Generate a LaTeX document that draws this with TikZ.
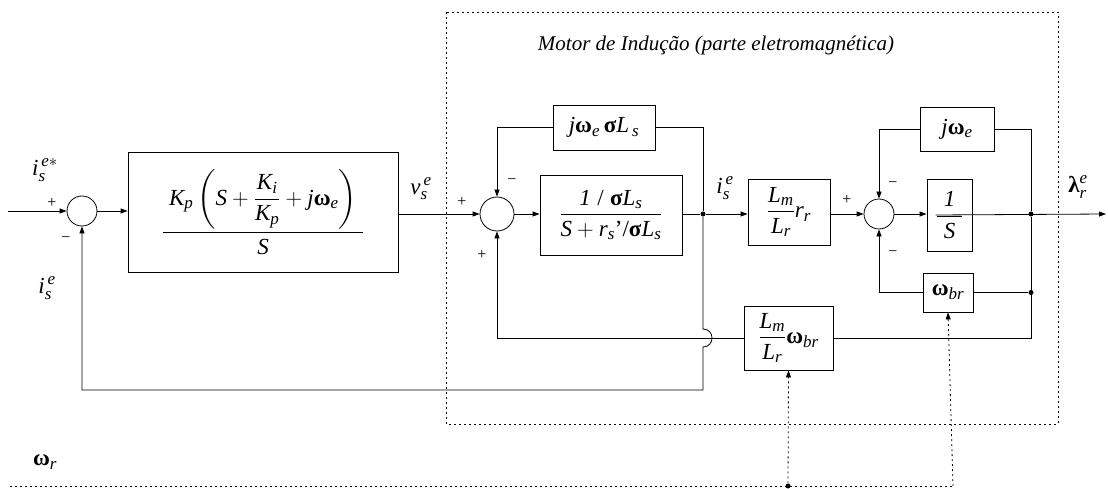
\documentclass[tikz,border=0pt]{standalone}
\usepackage{fix-cm}
\usepackage{amsmath}
\usepackage{fontspec}
\setmainfont{Liberation Serif}
\usetikzlibrary{arrows.meta}
\DeclareMathSizes{23}{23}{17}{13}
\newcommand\itx[1]{\textit{#1}}
\newcommand\gw{\textbf{ω}}
\newcommand\gs{\textbf{σ}}
\begin{document}
\begin{tikzpicture}[x=1pt,y=-1pt, font=\fontsize{23}{26}\selectfont,
 blk/.style={draw, line width=0.8pt, inner sep=0pt},
 sumc/.style={draw, circle, line width=0.8pt, inner sep=0pt},
 wire/.style={line width=0.8pt},
 arr/.style={wire, -{Triangle[length=7pt,width=5pt]}},
 dot/.style={circle, fill, inner sep=0pt, minimum size=5pt},
 dots/.style={line width=0.8pt, dash pattern=on 2pt off 3pt},
 darr/.style={dots, -{Triangle[length=7pt,width=5pt]}},
 sgn/.style={font=\fontsize{16}{16}\selectfont, inner sep=0pt},
 lbl/.style={inner sep=0pt}]
\useasboundingbox (0,0) rectangle (1108,489);
% motor boundary
\draw[dots] (446,12) rectangle (1058,424);
\node[lbl, font=\fontsize{21}{24}\selectfont] (title) at (716,45) {\itx{Motor de Indução (parte eletromagnética)}};
% blocks
\node[sumc, minimum size=30pt] (s1) at (82,211) {};
\node[blk, minimum width=270pt, minimum height=120pt] (pi) at (263,212)
 {$\dfrac{\;\itx{K}_{\itx{p}}\left(\itx{S}+\dfrac{\itx{K}_{\itx{i}}}{\itx{K}_{\itx{p}}}+\itx{j}\gw_{\itx{e}}\right)\;}{\itx{S}}$};
\node[sumc, minimum size=34pt] (s2) at (497,214) {};
\node[blk, minimum width=142pt, minimum height=80pt] (g1) at (611,215)
 {$\dfrac{\itx{1}\;\textrm{/}\;\gs\itx{L}_{\itx{s}}}{\itx{S}+\itx{r}_{\itx{s}}\textrm{'/}\gs\itx{L}_{\itx{s}}}$};
\node[blk, minimum width=102pt, minimum height=45pt] (jw1) at (604,127.5)
 {$\itx{j}\gw_{\itx{e}}\,\gs\itx{L}_{\,\itx{s}}$};
\node[dot] (j1) at (703,214) {};
\node[blk, minimum width=82pt, minimum height=66pt] (lr) at (789,212)
 {$\dfrac{\itx{L}_{\itx{m}}}{\itx{L}_{\itx{r}}}\itx{r}_{\itx{r}}$};
\node[sumc, minimum size=30pt] (s3) at (879,214) {};
\node[blk, minimum width=45pt, minimum height=72pt] (is) at (949.5,215)
 {$\dfrac{\;\itx{1}\;}{\itx{S}}$};
\node[blk, minimum width=74pt, minimum height=44pt] (jw2) at (957,129)
 {$\itx{j}\gw_{\itx{e}}$};
\node[dot] (j2) at (1031,214) {};
\node[blk, minimum width=50pt, minimum height=39pt] (wb) at (948,292.5)
 {$\gw_{\itx{br}}$};
\node[dot] (j3) at (1031,292.5) {};
\node[blk, minimum width=89pt, minimum height=64pt] (lw) at (788.5,338)
 {$\dfrac{\itx{L}_{\itx{m}}}{\itx{L}_{\itx{r}}}\gw_{\itx{br}}$};
% coordinates
\coordinate (in) at (8,211);
\coordinate (out) at (1106,214);
\coordinate (h1) at (703,329);
\coordinate (h2) at (703,347);
\coordinate (fb) at (703,390);
\coordinate (r0) at (10,486);
\coordinate (r1) at (953,486);
\node[dot] (jr) at (788,486) {};
% connectors
\draw[arr] (in) -- (s1.west);
\draw[arr] (s1.east) -- (pi.west |- s1.east);
\draw[arr] (pi.east |- s2.west) -- (s2.west);
\draw[arr] (s2.east) -- (g1.west |- s2.east);
\draw[wire] (g1.east |- j1) -- (j1);
\draw[arr] (j1) -- (lr.west |- j1);
\draw[wire] (j1) |- (jw1.east);
\draw[arr] (jw1.west) -| (s2.north);
\draw[arr] (j1) -- (h1) .. controls +(12,0) and +(12,0) .. (h2) -- (fb) -| (s1.south);
\draw[arr] (lw.west) -| (s2.south);
\draw[wire] (lw.east) -| (j2);
\draw[wire] (wb.east) -- (j3);
\draw[wire] (j2) |- (jw2.east);
\draw[arr] (jw2.west) -| (s3.north);
\draw[arr] (wb.west) -| (s3.south);
\draw[arr] (lr.east |- s3.west) -- (s3.west);
\draw[arr] (s3.east) -- (is.west |- s3.east);
\draw[arr] ([xshift=-14pt]is.center) -- (out);
\draw[dots] (r0) -- (r1);
\draw[darr] (r1) -- (wb.south);
\draw[darr] (jr) -- (lw.south);
% labels
\node[lbl] (l1) at (45,170) {$\itx{i}_{\itx{s}}^{\,\itx{e}*}$};
\node[sgn] (p1) at (52,203) {+};
\node[sgn] (m1) at (66,240) {\textminus};
\node[lbl] (l2) at (47,288) {$\itx{i}_{\itx{s}}^{\,\itx{e}}$};
\node[lbl] (l3) at (421,189) {$\itx{v}_{\itx{s}}^{\,\itx{e}}$};
\node[sgn] (p2) at (462,202) {+};
\node[sgn] (m2) at (512,182) {\textminus};
\node[sgn] (p3) at (482,255) {+};
\node[lbl] (l4) at (725,188) {$\itx{i}_{\itx{s}}^{\,\itx{e}}$};
\node[sgn] (p4) at (847,200) {+};
\node[sgn] (m3) at (893,185) {\textminus};
\node[sgn] (m4) at (893,254) {\textminus};
\node[lbl] (l5) at (1078,187) {$\textbf{λ}_{\itx{r}}^{\itx{e}}$};
\node[lbl] (l6) at (45,462) {$\gw_{\itx{r}}$};
\end{tikzpicture}
\end{document}
